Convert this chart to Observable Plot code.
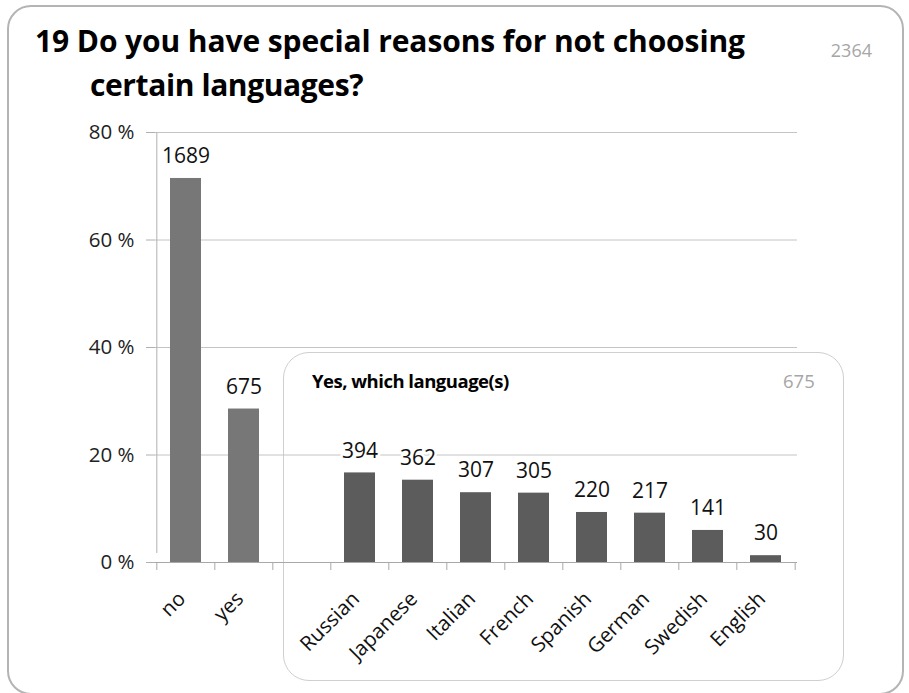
<!DOCTYPE html>
<html>
<head>
<meta charset="utf-8">
<script src="https://cdn.jsdelivr.net/npm/d3@7"></script>
<script src="https://cdn.jsdelivr.net/npm/@observablehq/plot@0.6"></script>
<style>
  html, body { margin: 0; padding: 0; background: #fff; }
  #wrap { position: relative; width: 909px; height: 693px; overflow: hidden; font-family: "Open Sans", sans-serif; }
  #outer { position: absolute; left: 7px; top: 5px; width: 897px; height: 690px; border: 2px solid #b4b4b4; border-radius: 24px; box-sizing: border-box; }
  #title { position: absolute; left: 35px; top: 19px; font-size: 30px; font-weight: bold; color: #000; line-height: 44px; letter-spacing: -0.1px; }
  #title .l2 { padding-left: 55px; letter-spacing: -0.4px; }
  #total { position: absolute; right: 37px; top: 38px; font-size: 18px; color: #a6a6a6; }
  #inner { position: absolute; left: 283px; top: 352px; width: 561px; height: 329px; border: 1.5px solid #cfcfcf; border-radius: 26px; box-sizing: border-box; }
  #innerTitle { position: absolute; left: 312px; top: 368px; font-size: 18.5px; font-weight: bold; color: #000; letter-spacing: -0.5px; }
  #innerTotal { position: absolute; left: 783px; top: 368px; font-size: 18.5px; color: #a6a6a6; }
  #plot { position: absolute; left: 0; top: 0; }
</style>
</head>
<body>
<div id="wrap">
  <div id="outer"></div>
  <div id="inner"></div>
  <div id="plot"></div>
  <div id="title">19 Do you have special reasons for not choosing<br><span class="l2">certain languages?</span></div>
  <div id="total"></div>
  <div id="innerTitle">Yes, which language(s)</div>
  <div id="innerTotal"></div>
</div>
<script>
// ---- data ----
const mainLabels = ["no", "yes"];
const mainCounts = [1689, 675];
const langLabels = ["Russian", "Japanese", "Italian", "French", "Spanish", "German", "Swedish", "English"];
const langCounts = [394, 362, 307, 305, 220, 217, 141, 30];
const totalCount = 2364;
const yesCount = 675;
const gapLabel = " ";
const categories = [...mainLabels, gapLabel, ...langLabels];
const yTicks = [0, 20, 40, 60, 80];

document.getElementById("total").textContent = totalCount;
document.getElementById("innerTotal").textContent = yesCount;

const rows = [
  ...mainLabels.map((c, i) => ({cat: c, n: mainCounts[i], group: "main"})),
  ...langLabels.map((c, i) => ({cat: c, n: langCounts[i], group: "lang"}))
].map(d => ({...d, pct: d.n / totalCount * 100}));

const W = 909, H = 693;
const mL = 155, mR = 112, mT = 132, mB = 131;
const step = (W - mL - mR) / categories.length;
const font = "Open Sans";

const chart = Plot.plot({
  width: W,
  height: H,
  marginLeft: mL,
  marginRight: mR,
  marginTop: mT,
  marginBottom: mB,
  style: {fontFamily: font, background: "transparent", overflow: "visible"},
  x: {type: "band", domain: categories, paddingInner: 0.46, paddingOuter: 0.23, axis: null},
  y: {domain: [0, 80], axis: null},
  marks: [
    Plot.gridY(yTicks, {stroke: "#c4c4c4", strokeOpacity: 1, strokeWidth: 1}),
    Plot.axisY({
      ticks: yTicks, tickFormat: d => d + " %", tickSize: 9, tickPadding: 12,
      fontSize: 20.5, stroke: "#b0b0b0", color: "#222", label: null
    }),
    // vertical axis line
    Plot.ruleX([categories[0]], {dx: -step / 2, y1: 0, y2: 80, insetTop: -9, stroke: "#b0b0b0"}),
    Plot.barY(rows, {
      x: "cat", y: "pct",
      fill: d => d.group === "main" ? "#777777" : "#5c5c5c"
    }),
    Plot.ruleY([0], {stroke: "#a8a8a8"}),
    // category boundary ticks
    Plot.ruleX(categories, {x: d => d, dx: -step / 2, y1: 0, y2: 0, insetBottom: -8, stroke: "#a8a8a8"}),
    Plot.ruleX([categories[categories.length - 1]], {dx: step / 2, y1: 0, y2: 0, insetBottom: -8, stroke: "#a8a8a8"}),
    Plot.text(rows, {
      x: "cat", y: "pct", text: d => String(d.n), dy: -22,
      fontSize: 21, fill: "#111", stroke: "white", strokeWidth: 5, paintOrder: "stroke"
    }),
    Plot.axisX({
      domain: categories, tickSize: 0, tickRotate: -45, tickPadding: 33, dx: -4,
      tickFormat: d => d.trim(), fontSize: 20.5, color: "#111", label: null
    })
  ]
});
document.getElementById("plot").appendChild(chart);
</script>
</body>
</html>
